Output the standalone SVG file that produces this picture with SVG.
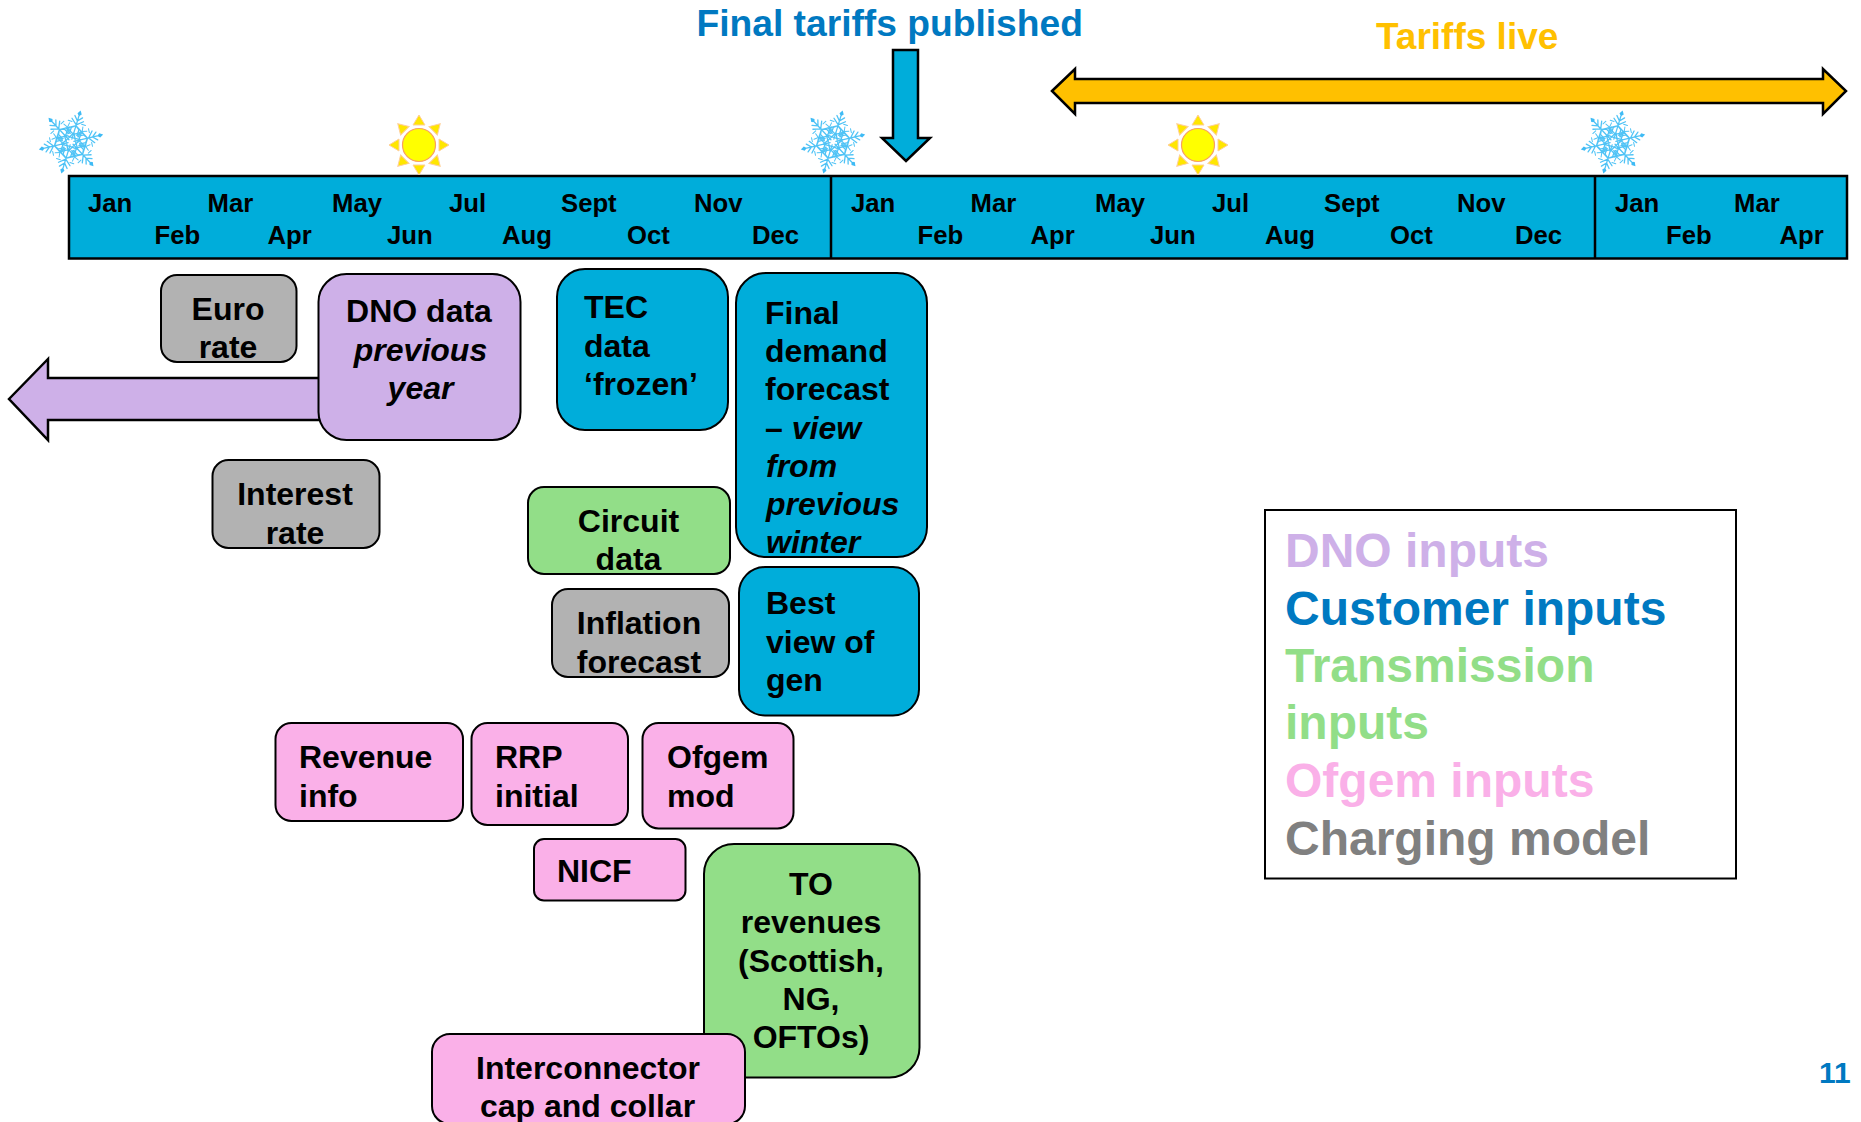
<svg xmlns="http://www.w3.org/2000/svg" xmlns:xlink="http://www.w3.org/1999/xlink" width="1861" height="1122" viewBox="0 0 1861 1122">
<style>
text{font-family:"Liberation Sans",Arial,sans-serif;font-weight:700;fill:#000}
.m{font-size:25.7px}
.t{font-size:32px}
.c{text-anchor:middle}
.i{font-style:italic}
.l{font-size:48px}
.box{stroke:#000;stroke-width:2}
.blue{fill:#00ADDA}.purple{fill:#CEB0E8}.gray{fill:#B2B2B2}.green{fill:#92DE88}.pink{fill:#FAB0E8}
.arr{stroke:#000;stroke-width:2.5;stroke-linejoin:miter}
.div{stroke:#000;stroke-width:2.5}
</style>
<defs>
<g id="arm" fill="none" stroke="#4FC3F6" stroke-width="1.3" stroke-linecap="round">
<path d="M0-3V-27M-3.500-3 0-10 3.500-3M-7-5-7-13 0-17 7-13 7-5M-4-8-4-14 0-17 4-14 4-8M0-18-6-23M0-18 6-23M0-22-4-26.500M0-22 4-26.500"/>
<path d="M-3-8-9-12M3-8 9-12M-7-13-12-15M7-13 12-15M-5-20-9-20M5-20 9-20" stroke-width="1"/>
<path d="M0-27-2.200-29.500 0-33 2.200-29.500Z" fill="#3FBBF5" stroke="none"/>
</g>
<g id="flake" transform="rotate(17)">
<use xlink:href="#arm"/><use xlink:href="#arm" transform="rotate(60)"/><use xlink:href="#arm" transform="rotate(120)"/><use xlink:href="#arm" transform="rotate(180)"/><use xlink:href="#arm" transform="rotate(240)"/><use xlink:href="#arm" transform="rotate(300)"/>
</g>
<g id="ray"><path d="M-6-20 0-30 6-20Z" fill="#FFE600" stroke="#FFCF9A" stroke-width="1"/></g>
<g id="sun">
<use xlink:href="#ray"/><use xlink:href="#ray" transform="rotate(45)"/><use xlink:href="#ray" transform="rotate(90)"/><use xlink:href="#ray" transform="rotate(135)"/><use xlink:href="#ray" transform="rotate(180)"/><use xlink:href="#ray" transform="rotate(225)"/><use xlink:href="#ray" transform="rotate(270)"/><use xlink:href="#ray" transform="rotate(315)"/>
<circle r="16.5" fill="#FFFF00" stroke="#F9A05F" stroke-width="1.2"/>
</g>
<g id="months" class="m">
<text x="88" y="212">Jan</text><text x="207.500" y="212">Mar</text><text x="332" y="212">May</text><text x="449" y="212">Jul</text><text x="561" y="212">Sept</text><text x="694" y="212">Nov</text>
<text x="154.500" y="244">Feb</text><text x="267.500" y="244">Apr</text><text x="387" y="244">Jun</text><text x="502" y="244">Aug</text><text x="627" y="244">Oct</text><text x="752" y="244">Dec</text>
</g>
</defs>

<g id="timeline">
<rect x="69" y="176" width="1778" height="82.500" class="blue" stroke="#000" stroke-width="2.5"/>
<path class="div" d="M831 176V258M1595 176V258"/>
<use xlink:href="#months"/>
<use xlink:href="#months" x="763"/>
<g class="m">
<text x="1615" y="212">Jan</text><text x="1734" y="212">Mar</text>
<text x="1666" y="244">Feb</text><text x="1779.500" y="244">Apr</text>
</g>
</g>

<g id="seasons">
<use xlink:href="#flake" transform="translate(71 142)"/>
<use xlink:href="#flake" transform="translate(833 142)"/>
<use xlink:href="#flake" transform="translate(1613 142)"/>
<use xlink:href="#sun" transform="translate(419 145)"/>
<use xlink:href="#sun" transform="translate(1198 145)"/>
</g>

<g id="title-final"><text x="696.500" y="36" font-size="37.2" style="fill:#0079C1">Final tariffs published</text></g>
<g id="title-live"><text x="1376" y="49" font-size="37" style="fill:#FFC000">Tariffs live</text></g>

<g id="connectors">
<path class="arr blue" d="M893 50H918V138H930L906 161 882 138H893Z"/>
<path class="arr" fill="#FFC000" d="M1052 91 1075 69V79H1823V69L1846 91 1823 114V103H1075V114Z"/>
<path class="arr purple" d="M9 399 48 359V378H330V420H48V440Z"/>
</g>

<g id="euro-rate" class="t c"><rect class="box gray" x="161" y="275" width="135.500" height="87" rx="16"/><text x="228" y="320">Euro</text><text x="228" y="358">rate</text></g>
<g id="dno-data" class="t c"><rect class="box purple" x="318.500" y="274" width="202" height="166" rx="28"/><text x="419" y="322">DNO data</text><text class="i" x="420.500" y="361">previous</text><text class="i" x="420.500" y="399">year</text></g>
<g id="interest-rate" class="t c"><rect class="box gray" x="212.500" y="460" width="167" height="88" rx="16"/><text x="295" y="505">Interest</text><text x="295" y="544">rate</text></g>
<g id="tec-data" class="t"><rect class="box blue" x="557" y="269" width="171" height="161" rx="28"/><text x="584" y="318">TEC</text><text x="584" y="357">data</text><text x="584" y="395">‘frozen’</text></g>
<g id="final-demand" class="t"><rect class="box blue" x="736" y="273" width="191" height="284" rx="30"/><text x="765" y="324">Final</text><text x="765" y="362">demand</text><text x="765" y="400">forecast</text><text x="765" y="439">– <tspan class="i">view</tspan></text><text class="i" x="766" y="477">from</text><text class="i" x="766" y="515">previous</text><text class="i" x="766" y="553">winter</text></g>
<g id="circuit-data" class="t c"><rect class="box green" x="528" y="487" width="202" height="87" rx="16"/><text x="628.500" y="532">Circuit</text><text x="628.500" y="570">data</text></g>
<g id="inflation" class="t c"><rect class="box gray" x="552" y="589" width="177" height="88" rx="16"/><text x="639" y="634">Inflation</text><text x="639" y="673">forecast</text></g>
<g id="best-view" class="t"><rect class="box blue" x="739" y="567" width="180" height="148.500" rx="26"/><text x="766" y="614">Best</text><text x="766" y="653">view of</text><text x="766" y="691">gen</text></g>
<g id="revenue-info" class="t"><rect class="box pink" x="275.500" y="723" width="187.500" height="98" rx="16"/><text x="299" y="768">Revenue</text><text x="299" y="807">info</text></g>
<g id="rrp-initial" class="t"><rect class="box pink" x="471.500" y="723" width="156.500" height="102" rx="16"/><text x="495" y="768">RRP</text><text x="495" y="807">initial</text></g>
<g id="ofgem-mod" class="t"><rect class="box pink" x="642.500" y="723" width="151" height="105.500" rx="16"/><text x="667" y="768">Ofgem</text><text x="667" y="807">mod</text></g>
<g id="nicf" class="t"><rect class="box pink" x="534" y="839" width="151.500" height="61.500" rx="10"/><text x="557" y="882">NICF</text></g>
<g id="to-revenues" class="t c"><rect class="box green" x="704" y="844" width="215.500" height="233.500" rx="30"/><text x="811" y="895">TO</text><text x="811" y="933">revenues</text><text x="811" y="972">(Scottish,</text><text x="811" y="1010">NG,</text><text x="811" y="1048">OFTOs)</text></g>
<g id="interconnector" class="t c"><rect class="box pink" x="432" y="1034" width="313" height="90" rx="18"/><text x="588" y="1079">Interconnector</text><text x="587.500" y="1117">cap and collar</text></g>

<g id="legend" class="l">
<rect x="1265" y="510" width="471" height="368.500" fill="#fff" stroke="#000" stroke-width="2"/>
<text x="1285" y="567" style="fill:#CEB0E8">DNO inputs</text>
<text x="1285" y="625" style="fill:#0079C1">Customer inputs</text>
<text x="1285" y="682" style="fill:#92DE88">Transmission</text>
<text x="1285" y="739" style="fill:#92DE88">inputs</text>
<text x="1285" y="797" style="fill:#FAB0E8">Ofgem inputs</text>
<text x="1285" y="855" style="fill:#808080">Charging model</text>
</g>
<g id="page-number"><text x="1819" y="1083" font-size="30" style="fill:#0079C1">11</text></g>
</svg>
